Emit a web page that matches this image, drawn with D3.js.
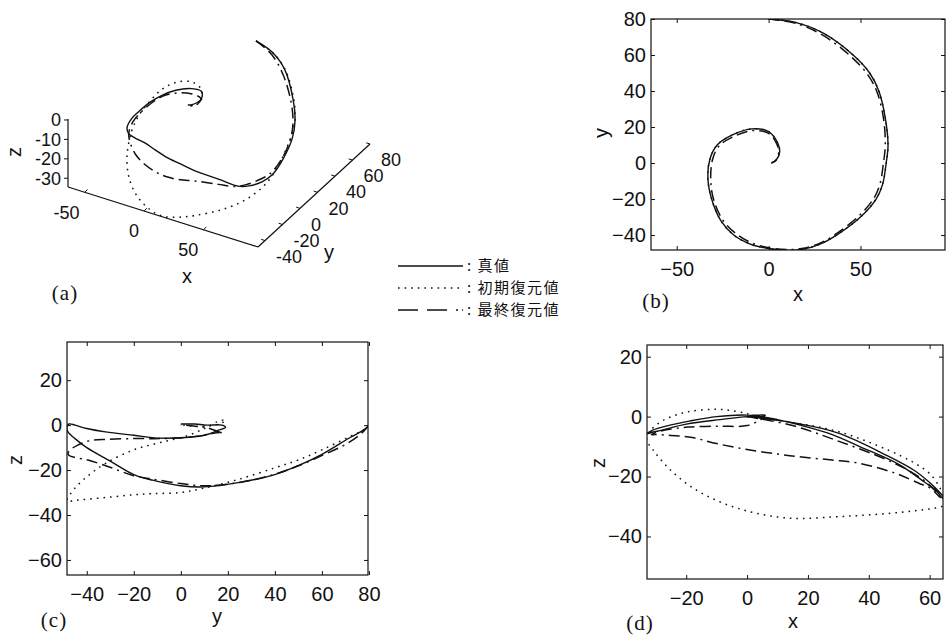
<!DOCTYPE html>
<html>
<head>
<meta charset="utf-8">
<script src="https://cdn.jsdelivr.net/npm/d3@7"></script>
<style>
body { margin: 0; background: #fff; }
svg text { font-family: "Liberation Sans", Arial, sans-serif; font-size: 20px; fill: #111; }
.tick text { font-size: 20px; }
.ax3 { font-size: 18px; }
.plabel { font-family: "Liberation Serif", "Times New Roman", serif; font-size: 21px; letter-spacing: 1px; }
.leg { font-family: "Noto Sans CJK JP", sans-serif; font-size: 15px; letter-spacing: 1.5px; }
</style>
</head>
<body>
<svg id="chart" width="946" height="639"></svg>
<script>
// spiral, outer end -> inner end
var trueX = [0, 15, 30, 46, 55, 60, 63.5, 65, 64, 62, 58.5, 50, 37, 28, 18, 10, 0, -10, -19, -26, -31, -33, -32, -28, -20, -9, 0, 5, 6, 4, 1.5];
var trueY = [80, 78, 72, 60, 50, 40, 25, 10, 0, -12, -20, -30, -40, -45, -48, -48.5, -47.5, -45, -40, -32, -20, -9, 2, 10, 15.5, 19, 17.5, 11, 6, 1.5, 0];
// z (c) and (d)
var trueZ = [0, -2, -5.5, -13, -18, -22, -25.5, -27.5, -27, -24.5, -22, -16, -10, -6, -3, -1, 0.5, 0, -1.5, -3, -4.5, -5.8, -5.5, -4.5, -2.5, -1, 0, 0, 0.5, 0.5, 0.5];

// initial estimate shares x,y with the true curve
var initZ = [0, -2, -5, -11, -15.5, -19, -24, -28, -30, -30.5, -31, -32, -33, -33.5, -34, -33.5, -31.5, -28, -23, -17, -11, -7.8, -5, -1.5, 1.5, 2.4, 1.0, -0.5, -0.5, 0, 0];

// final estimate
var finalX = [0, 15, 29.5, 45, 54, 59, 62.5, 63.5, 62.5, 60.5, 57, 49, 36.5, 28, 18, 10, 0, -10, -18, -25, -30, -31.5, -30.5, -27, -19.5, -9, 0, 4.5, 5.5, 4, 1.5];
var finalY = [80, 77.5, 71, 59, 49, 39.5, 25, 10, 0, -12, -20, -29.5, -39.5, -44.5, -47.5, -48, -47, -44, -39, -31.5, -20, -9, 2, 9.5, 14.5, 18, 16.5, 10.5, 6, 1.5, 0];
var finalZ = [0, -3, -8, -14, -18.5, -22, -25.5, -27, -26, -24, -22.5, -19, -15.5, -14.5, -13.5, -12.5, -11, -9, -7, -6.3, -6, -6, -5.5, -4.5, -3.5, -3.2, -3, -1, -0.5, 0, 0];

var legendNames = ["真値", "初期復元値", "最終復元値"];

var ticksA_x = [-50, 0, 50];
var ticksA_y = [-40, -20, 0, 20, 40, 60, 80];
var ticksA_z = [-30, -20, -10, 0];
var ticksB_x = [-50, 0, 50];
var ticksB_y = [-40, -20, 0, 20, 40, 60, 80];
var ticksC_x = [-40, -20, 0, 20, 40, 60, 80];
var ticksC_y = [-60, -40, -20, 0, 20];
var ticksD_x = [-20, 0, 20, 40, 60];
var ticksD_y = [-40, -20, 0, 20];

var svg = d3.select("#chart");

var DOT = "1.6,5";
var DASHDOT = "11,5,11,5,2,5";

var series = [
    {name: legendNames[1], xs: trueX, ys: trueY, zs: initZ, dash: DOT},
    {name: legendNames[2], xs: finalX, ys: finalY, zs: finalZ, dash: DASHDOT},
    {name: legendNames[0], xs: trueX, ys: trueY, zs: trueZ, dash: null}
];

function points(s) {
    return s.xs.map(function(d, i) { return {x: d, y: s.ys[i], z: s.zs[i]}; });
}

function styleLine(sel, dash) {
    sel.attr("fill", "none")
        .attr("stroke", "#111")
        .attr("stroke-width", dash ? 1.5 : 1.4)
        .attr("stroke-dasharray", dash);
}

// ---- 2D panels ----
function drawPanel(p) {
    var xScale = d3.scaleLinear().domain(p.xDomain).range([p.left, p.right]);
    var yScale = d3.scaleLinear().domain(p.yDomain).range([p.bottom, p.top]);

    svg.append("clipPath").attr("id", "clip-" + p.id)
        .append("rect")
        .attr("x", p.left).attr("y", p.top)
        .attr("width", p.right - p.left).attr("height", p.bottom - p.top);

    var g = svg.append("g");

    var line = d3.line()
        .x(function(d) { return xScale(d[p.xKey]); })
        .y(function(d) { return yScale(d[p.yKey]); })
        .curve(d3.curveCatmullRom.alpha(0.5));

    var plot = g.append("g").attr("clip-path", "url(#clip-" + p.id + ")");
    series.forEach(function(s) {
        plot.append("path").attr("d", line(points(s))).call(styleLine, s.dash);
    });

    g.append("g").attr("transform", "translate(0," + p.bottom + ")")
        .call(d3.axisBottom(xScale).tickValues(p.xTicks).tickSizeInner(-4).tickSizeOuter(0).tickPadding(12))
        .call(function(a) { a.select(".domain").remove(); });
    g.append("g").attr("transform", "translate(0," + p.top + ")")
        .call(d3.axisTop(xScale).tickValues(p.xTicks).tickSizeInner(-4).tickSizeOuter(0).tickFormat(""))
        .call(function(a) { a.select(".domain").remove(); });
    g.append("g").attr("transform", "translate(" + p.left + ",0)")
        .call(d3.axisLeft(yScale).tickValues(p.yTicks).tickSizeInner(-4).tickSizeOuter(0).tickPadding(5))
        .call(function(a) { a.select(".domain").remove(); });
    g.append("g").attr("transform", "translate(" + p.right + ",0)")
        .call(d3.axisRight(yScale).tickValues(p.yTicks).tickSizeInner(-4).tickSizeOuter(0).tickFormat(""))
        .call(function(a) { a.select(".domain").remove(); });

    g.selectAll(".tick line").attr("stroke", "#111");

    g.append("rect")
        .attr("x", p.left).attr("y", p.top)
        .attr("width", p.right - p.left).attr("height", p.bottom - p.top)
        .attr("fill", "none").attr("stroke", "#111").attr("stroke-width", 1.2);

    g.append("text").attr("x", p.xLabelPos[0]).attr("y", p.xLabelPos[1])
        .attr("text-anchor", "middle").attr("dy", "0.35em").text(p.xLabel);
    g.append("text")
        .attr("transform", "translate(" + p.yLabelPos[0] + "," + p.yLabelPos[1] + ") rotate(-90)")
        .attr("text-anchor", "middle").attr("dy", "0.35em").text(p.yLabel);
    g.append("text").attr("class", "plabel")
        .attr("x", p.tagPos[0]).attr("y", p.tagPos[1])
        .attr("text-anchor", "middle").attr("dy", "0.35em").text(p.tag);
}

drawPanel({
    id: "b", left: 651, right: 945, top: 19, bottom: 250,
    xDomain: [-64, 96], yDomain: [-48.3, 80], xKey: "x", yKey: "y",
    xTicks: ticksB_x, yTicks: ticksB_y,
    xLabel: "x", xLabelPos: [798, 294], yLabel: "y", yLabelPos: [601, 133],
    tag: "(b)", tagPos: [656, 301]
});

drawPanel({
    id: "c", left: 67, right: 368, top: 342, bottom: 575,
    xDomain: [-48.4, 79.6], yDomain: [-66.7, 37], xKey: "y", yKey: "z",
    xTicks: ticksC_x, yTicks: ticksC_y,
    xLabel: "y", xLabelPos: [217, 616], yLabel: "z", yLabelPos: [15, 460],
    tag: "(c)", tagPos: [54, 620]
});

drawPanel({
    id: "d", left: 647, right: 943, top: 345, bottom: 579,
    xDomain: [-32.9, 64.4], yDomain: [-54.2, 23.9], xKey: "x", yKey: "z",
    xTicks: ticksD_x, yTicks: ticksD_y,
    xLabel: "x", xLabelPos: [793, 621], yLabel: "z", yLabelPos: [598, 463],
    tag: "(d)", tagPos: [640, 623]
});

// ---- 3D panel (a) ----
var origin3 = [68, 187];
var ex = [190, 60], ey = [112, -103], ez = [0, -68];
var xs3 = d3.scaleLinear().domain([-64, 96]).range([0, 1]);
var ys3 = d3.scaleLinear().domain([-48, 80]).range([0, 1]);
var zs3 = d3.scaleLinear().domain([-34.5, 0.5]).range([0, 1]);

function proj(x, y, z) {
    var a = xs3(x), b = ys3(y), c = zs3(z);
    return [origin3[0] + a * ex[0] + b * ey[0] + c * ez[0],
            origin3[1] + a * ex[1] + b * ey[1] + c * ez[1]];
}

var g3 = svg.append("g");
var line3 = d3.line()
    .x(function(d) { return proj(d.x, d.y, d.z)[0]; })
    .y(function(d) { return proj(d.x, d.y, d.z)[1]; })
    .curve(d3.curveCatmullRom.alpha(0.5));

series.forEach(function(s) {
    g3.append("path").attr("d", line3(points(s))).call(styleLine, s.dash);
});

var zMin = -34.5;
var axisPaths = [
    [proj(-64, -48, zMin), proj(96, -48, zMin)],
    [proj(96, -48, zMin), proj(96, 80, zMin)],
    [proj(-64, -48, zMin), proj(-64, -48, 0.5)]
];
axisPaths.forEach(function(seg) {
    g3.append("line")
        .attr("x1", seg[0][0]).attr("y1", seg[0][1])
        .attr("x2", seg[1][0]).attr("y2", seg[1][1])
        .attr("stroke", "#111").attr("stroke-width", 1.2);
});

function unit(v) { var l = Math.sqrt(v[0] * v[0] + v[1] * v[1]); return [v[0] / l, v[1] / l]; }
var uy = unit(ey), ux = unit(ex);

ticksA_x.forEach(function(t) {
    var p = proj(t, -48, zMin);
    g3.append("line").attr("x1", p[0]).attr("y1", p[1])
        .attr("x2", p[0] + uy[0] * 4).attr("y2", p[1] + uy[1] * 4)
        .attr("stroke", "#111");
    g3.append("text").attr("class", "ax3").attr("x", p[0] - 5).attr("y", p[1] + 20)
        .attr("text-anchor", "end").attr("dy", "0.35em").text(t);
});

ticksA_y.forEach(function(t) {
    var p = proj(96, t, zMin);
    g3.append("line").attr("x1", p[0]).attr("y1", p[1])
        .attr("x2", p[0] - ux[0] * 4).attr("y2", p[1] - ux[1] * 4)
        .attr("stroke", "#111");
    g3.append("text").attr("class", "ax3").attr("x", p[0] + 11).attr("y", p[1] + 16)
        .attr("text-anchor", "start").attr("dy", "0.35em").text(t);
});

ticksA_z.forEach(function(t) {
    var p = proj(-64, -48, t);
    g3.append("line").attr("x1", p[0]).attr("y1", p[1])
        .attr("x2", p[0] - 4).attr("y2", p[1])
        .attr("stroke", "#111");
    g3.append("text").attr("class", "ax3").attr("x", p[0] - 7).attr("y", p[1])
        .attr("text-anchor", "end").attr("dy", "0.35em").text(t);
});

g3.append("text").attr("x", 187).attr("y", 276).attr("text-anchor", "middle").attr("dy", "0.35em").text("x");
g3.append("text").attr("x", 329).attr("y", 252).attr("text-anchor", "middle").attr("dy", "0.35em").text("y");
g3.append("text").attr("transform", "translate(14,152) rotate(-90)")
    .attr("text-anchor", "middle").attr("dy", "0.35em").text("z");
g3.append("text").attr("class", "plabel").attr("x", 65).attr("y", 293)
    .attr("text-anchor", "middle").attr("dy", "0.35em").text("(a)");

// ---- legend ----
var legendRows = [
    {name: legendNames[0], legDash: null},
    {name: legendNames[1], legDash: DOT},
    {name: legendNames[2], legDash: "20,9,20,9,2,4"}
];
var legY = d3.scalePoint().domain(legendNames).range([266, 310]);
var leg = svg.append("g");
legendRows.forEach(function(r) {
    var y = legY(r.name);
    leg.append("line").attr("x1", 398).attr("x2", 463).attr("y1", y).attr("y2", y)
        .call(styleLine, r.legDash);
    leg.append("text").attr("class", "leg").attr("x", 467).attr("y", y).attr("dy", "0.35em")
        .attr("xml:space", "preserve").text(": " + r.name);
});
</script>
</body>
</html>
